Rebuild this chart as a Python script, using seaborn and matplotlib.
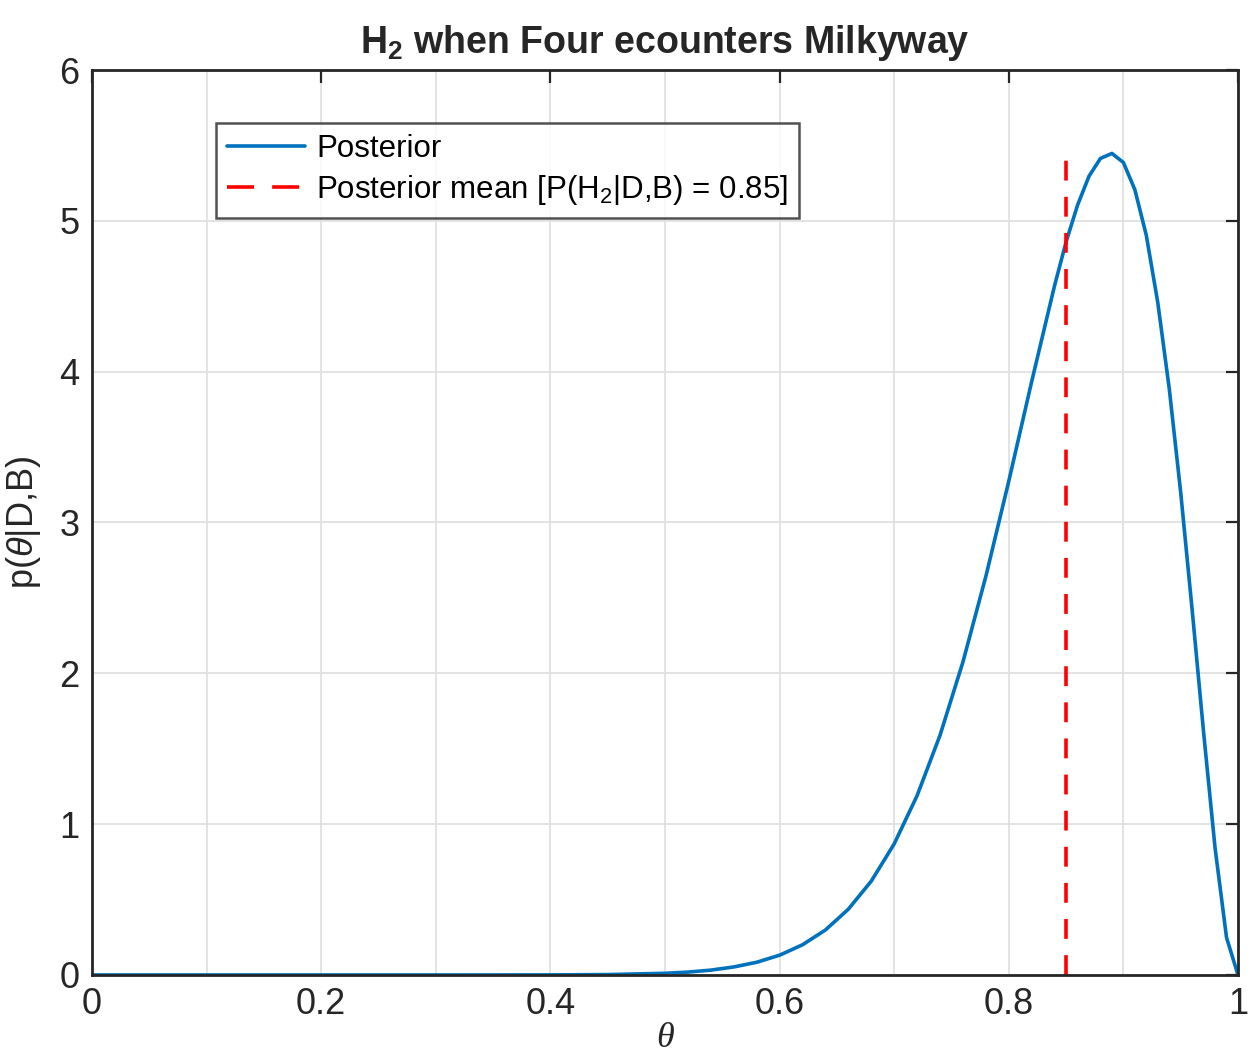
import numpy as np
import pandas as pd
import seaborn as sns
import matplotlib.pyplot as plt
from matplotlib.ticker import MultipleLocator

# posterior curve
theta = [0.0, 0.1, 0.2, 0.3, 0.35, 0.40, 0.45, 0.50, 0.52, 0.54, 0.56, 0.58,
         0.60, 0.62, 0.64, 0.66, 0.68, 0.70, 0.72, 0.74, 0.76, 0.78, 0.80,
         0.82, 0.84, 0.85, 0.86, 0.87, 0.88, 0.89, 0.90, 0.91, 0.92, 0.93,
         0.94, 0.95, 0.96, 0.97, 0.98, 0.99, 1.00]
posterior = [0.0, 0.0, 0.0, 0.0, 0.00005, 0.00045, 0.0025, 0.011, 0.019, 0.032,
             0.053, 0.084, 0.131, 0.200, 0.298, 0.436, 0.622, 0.869, 1.189,
             1.589, 2.075, 2.643, 3.274, 3.935, 4.572, 4.860, 5.104, 5.296,
             5.414, 5.447, 5.387, 5.207, 4.904, 4.459, 3.889, 3.200, 2.421,
             1.608, 0.842, 0.248, 0.0]
posterior_mean = 0.85

df = pd.DataFrame({"theta": theta, "p": posterior})

sns.set_style("white")
plt.rcParams["font.family"] = ["Liberation Sans", "DejaVu Sans"]
plt.rcParams["mathtext.fontset"] = "custom"
plt.rcParams["mathtext.rm"] = "Liberation Sans"
plt.rcParams["mathtext.it"] = "Liberation Sans:italic"
plt.rcParams["mathtext.bf"] = "Liberation Sans:bold"

fig = plt.figure(figsize=(12.51, 10.61), dpi=100)
ax = fig.add_axes([0.0735, 0.0811, 0.9161, 0.8529])

sns.lineplot(data=df, x="theta", y="p", ax=ax, color="#0072BD", linewidth=2.6,
             label="Posterior")
ax.vlines(posterior_mean, 0, max(posterior), colors="#FF0000",
          linestyles=(0, (5.5, 4.5)), linewidth=2.6,
          label="Posterior mean [P(H$_2$|D,B) = 0.85]")

ax.set_xlim(0, 1)
ax.set_ylim(0, 6)
ax.xaxis.set_minor_locator(MultipleLocator(0.1))
ax.yaxis.set_major_locator(MultipleLocator(1))
ax.set_xticks([0, 0.2, 0.4, 0.6, 0.8, 1.0])
ax.set_xticklabels(["0", "0.2", "0.4", "0.6", "0.8", "1"])
ax.grid(True, which="both", axis="x", color="#e0e0e0", linewidth=1.3)
ax.grid(True, which="major", axis="y", color="#e0e0e0", linewidth=1.3)
ax.set_axisbelow(True)

ax.tick_params(axis="both", which="major", direction="in", length=9, width=1.6,
               top=True, right=True, labelsize=26, colors="#262626", pad=9)
ax.tick_params(axis="x", which="minor", length=0)
for s in ax.spines.values():
    s.set_visible(True)
    s.set_color("#262626")
    s.set_linewidth(2.0)

ax.set_xlabel("θ", fontsize=26, family=["Liberation Serif", "DejaVu Serif"],
              style="italic", labelpad=0, color="#262626")
ax.set_ylabel(r"p($\theta$|D,B)", fontsize=26, labelpad=12, color="#262626")
ax.set_title(r"H$_\mathbf{2}$ when Four ecounters Milkyway", fontsize=27,
             fontweight="bold", pad=12)

leg = ax.legend(loc="upper left", bbox_to_anchor=(0.1085, 0.9415), fontsize=22.5,
                frameon=True, fancybox=False, edgecolor="#262626",
                handlelength=2.5, borderpad=0.35, labelspacing=0.3,
                handletextpad=0.35, borderaxespad=0)
leg.get_frame().set_linewidth(1.8)
leg.legend_handles[1].set_linestyle((0, (7.5, 5)))
for t in leg.get_texts():
    t.set_color("#000000")

fig.savefig("out.png", dpi=100)
